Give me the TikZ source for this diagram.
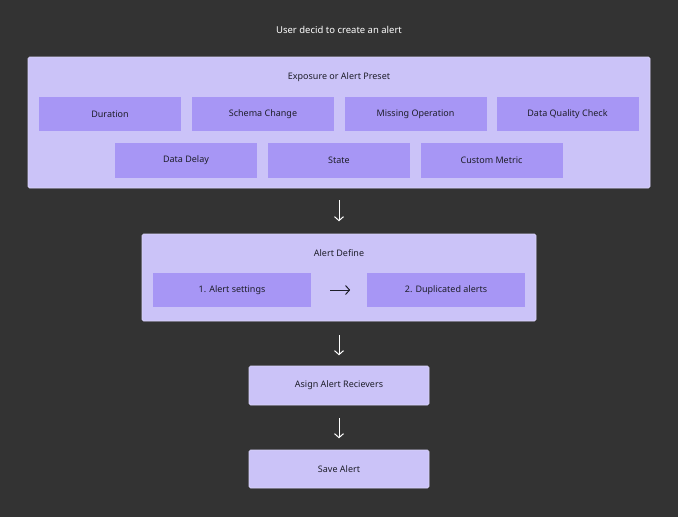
\documentclass[tikz,border=0pt]{standalone}
\usepackage{fontspec}
\setmainfont{Noto Sans}
\usetikzlibrary{arrows.meta}
\definecolor{bg}{HTML}{333333}
\definecolor{outer}{HTML}{CBC3F8}
\definecolor{inner}{HTML}{A796F5}
\definecolor{txt}{HTML}{1E1E2A}
\tikzset{
 box/.style={draw=outer!70!white,fill=outer,rounded corners=1.5pt,line width=0.6pt},
 item/.style={fill=inner,font=\fontsize{9}{11}\selectfont\bfseries,text=txt},
 ttl/.style={font=\fontsize{9}{11}\selectfont\bfseries,text=txt},
 arr/.style={draw=white,line width=1pt,-{Straight Barb[length=4pt,width=9pt]}},
 darr/.style={draw=txt,line width=1pt,-{Straight Barb[length=4pt,width=9pt]}}
}
\begin{document}
\begin{tikzpicture}[x=1pt,y=-1pt]
\fill[bg] (0,0) rectangle (678,517);
\useasboundingbox (0,0) rectangle (678,517);
\node[text=white,font=\fontsize{9.5}{11}\selectfont] (title) at (339,30) {User decid to create an alert};
\node[box,minimum width=622,minimum height=131] (preset) at (339,122.5) {};
\node[ttl] (pt) at (339,77) {Exposure or Alert Preset};
\foreach \n/\x/\t in {d/110/Duration,s/263/Schema Change,m/415.5/Missing Operation,q/567.5/Data Quality Check}
  \node[item,minimum width=142,minimum height=34] (\n) at (\x,114) {\t};
\foreach \n/\x/\t in {dd/186/Data Delay,st/339/State,cm/491.5/Custom Metric}
  \node[item,minimum width=142,minimum height=35] (\n) at (\x,160.5) {\t};
\node[box,minimum width=394,minimum height=87] (def) at (339,277.5) {};
\node[ttl] (dt) at (339,253) {Alert Define};
\node[item,minimum width=158,minimum height=34] (a1) at (232,290) {1. Alert settings};
\node[item,minimum width=158,minimum height=34] (a2) at (446,290) {2. Duplicated alerts};
\node[box,ttl,minimum width=180,minimum height=39] (rec) at (339,385.5) {Asign Alert Recievers};
\node[box,ttl,minimum width=180,minimum height=38] (save) at (339,469) {Save Alert};
\draw[darr] (a1.east)++(19,0) coordinate (c1) -- ++(20,0) coordinate (c2);
\draw[arr] (preset.south)++(0,12) coordinate (p1) -- ++(0,21);
\draw[arr] (def.south)++(0,14) coordinate (p2) -- ++(0,20);
\draw[arr] (rec.south)++(0,13) coordinate (p3) -- ++(0,20);
\end{tikzpicture}
\end{document}
